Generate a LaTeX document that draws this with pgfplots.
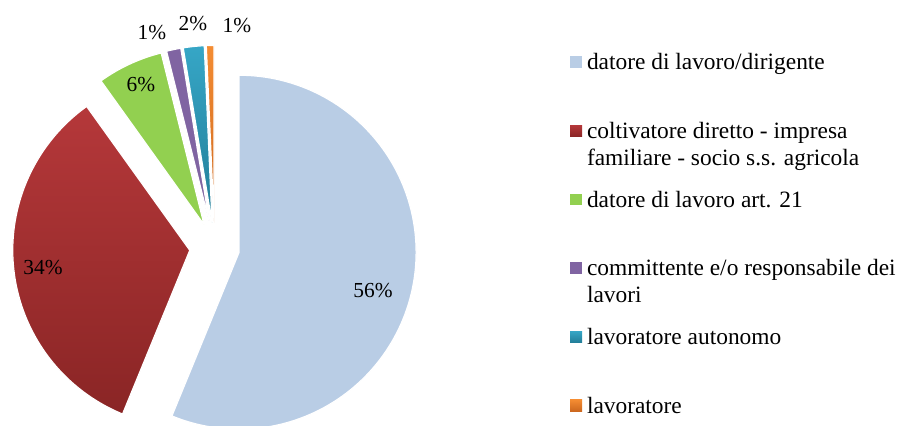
\documentclass[border=0pt]{standalone}
\usepackage{fontspec}
\setmainfont{Liberation Serif}
\usepackage{pgfplots}
\pgfplotsset{compat=1.18}

\definecolor{cBlue}{HTML}{B9CDE5}
\definecolor{cRedTop}{HTML}{B5383A}
\definecolor{cRedBot}{HTML}{8A2525}
\definecolor{cGreen}{HTML}{92D050}
\definecolor{cPurple}{HTML}{8064A2}
\definecolor{cTealTop}{HTML}{36A6C6}
\definecolor{cTealBot}{HTML}{227D97}
\definecolor{cOrgTop}{HTML}{F48C32}
\definecolor{cOrgBot}{HTML}{CC671E}

% pie geometry (pixel units of the 904x426 picture, y upwards)
\newcommand\Cx{214.6}
\newcommand\Cy{178.6}
\newcommand\D{25}
\newcommand\R{177}
\xdef\cur{90}

% #1 = share in percent, #2 = style
\newcommand\pieslice[2]{%
  \pgfmathsetmacro\ea{\cur-3.6*#1}%
  \pgfmathsetmacro\ma{\cur-1.8*#1}%
  \pgfmathsetmacro\ox{\Cx+\D*cos(\ma)}%
  \pgfmathsetmacro\oy{\Cy+\D*sin(\ma)}%
  \edef\doit{\noexpand\addplot[#2, draw=white, line width=0.6bp, domain=\ea:\cur, samples=120, variable=\noexpand\t]
    ({\ox+\R*cos(\noexpand\t)},{\oy+\R*sin(\noexpand\t)}) -- (axis cs:\ox,\oy) -- cycle;}%
  \doit
  \xdef\cur{\ea}%
}

\begin{document}
\begin{tikzpicture}
\begin{axis}[
  x=0.5bp, y=0.5bp,
  xmin=0, xmax=904, ymin=0, ymax=426,
  hide axis,
  clip=true,
  legend image code/.code={\path[#1, draw=none] (0bp,1bp) rectangle (6bp,6.8bp);},
  legend style={draw=none, fill=none, inner sep=0pt, outer sep=0pt,
    at={(axis cs:570,374)}, anchor=north west,
    font=\fontsize{11.7bp}{13.5bp}\selectfont,
    row sep=0pt,
    nodes={inner sep=0pt, text height=9bp, text depth=25.33bp},
    cells={anchor=base west},
    /tikz/every odd column/.append style={column sep=2.5bp}},
]
\pieslice{56.2}{fill=cBlue}
\addlegendentry{datore di lavoro/dirigente}
\pieslice{33.9}{top color=cRedTop, bottom color=cRedBot}
\addlegendentry{\parbox[t]{170bp}{coltivatore diretto - impresa\\familiare - socio s.s. agricola}}
\pieslice{6.0}{fill=cGreen}
\addlegendentry{datore di lavoro art. 21}
\pieslice{1.3}{fill=cPurple}
\addlegendentry{\parbox[t]{170bp}{committente e/o responsabile dei\\lavori}}
\pieslice{1.9}{top color=cTealTop, bottom color=cTealBot}
\addlegendentry{lavoratore autonomo}
\pieslice{0.7}{top color=cOrgTop, bottom color=cOrgBot}
\addlegendentry{lavoratore}

\begin{scope}[every node/.style={font=\fontsize{10.7bp}{12bp}\selectfont, inner sep=0pt}]
\node at (axis cs:373,135) {56\%};
\node at (axis cs:43,158) {34\%};
\node at (axis cs:141,341) {6\%};
\node at (axis cs:152,393) {1\%};
\node at (axis cs:193,402) {2\%};
\node at (axis cs:237,400) {1\%};
\end{scope}
\end{axis}
\pgfresetboundingbox
\path (current axis.south west) rectangle (current axis.north east);
\end{tikzpicture}
\end{document}
